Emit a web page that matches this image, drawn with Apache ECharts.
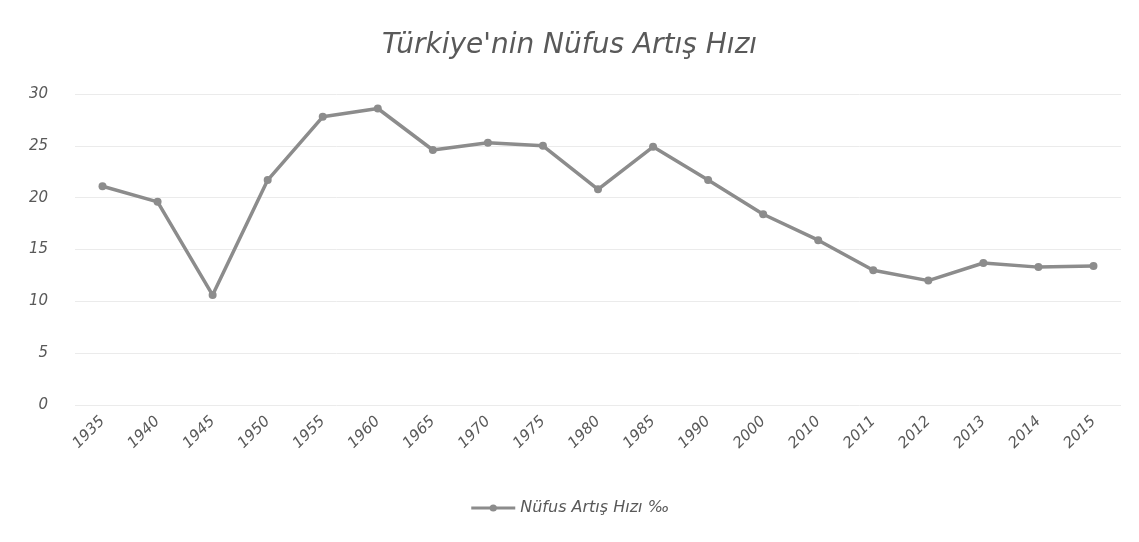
<!DOCTYPE html>
<html>
<head>
<meta charset="utf-8">
<script src="https://cdn.jsdelivr.net/npm/echarts@6/dist/echarts.min.js"></script>
<style>html,body{margin:0;padding:0;background:#fff}#c{width:1139px;height:542px}</style>
</head>
<body>
<div id="c"></div>
<script>
const categories = ['1935','1940','1945','1950','1955','1960','1965','1970','1975','1980','1985','1990','2000','2010','2011','2012','2013','2014','2015'];
const values = [21.1, 19.6, 10.6, 21.7, 27.8, 28.6, 24.6, 25.3, 25.0, 20.8, 24.9, 21.7, 18.4, 15.9, 13.0, 12.0, 13.7, 13.3, 13.4];
const yTicks = [0, 5, 10, 15, 20, 25, 30];
const seriesName = 'Nüfus Artış Hızı ‰';
const titleText = "Türkiye'nin Nüfus Artış Hızı";

const font = 'DejaVu Sans';
const chart = echarts.init(document.getElementById('c'));
chart.setOption({
  backgroundColor: '#fff',
  animation: false,
  title: {
    text: titleText, left: 'center', top: 27,
    textStyle: { fontFamily: font, fontStyle: 'oblique', fontSize: 28, fontWeight: 'normal', color: '#595959' }
  },
  legend: {
    bottom: 21, left: 'center',
    data: [seriesName],
    itemWidth: 44, itemHeight: 9, itemGap: 4,
    lineStyle: { width: 3 },
    textStyle: { fontFamily: font, fontStyle: 'oblique', fontSize: 16, color: '#595959' }
  },
  grid: { left: 75, right: 18, top: 94, bottom: 137, containLabel: false },
  xAxis: {
    type: 'category', data: categories, boundaryGap: true,
    axisLine: { show: false }, axisTick: { show: false },
    axisLabel: { rotate: 45, fontFamily: font, fontStyle: 'oblique', fontSize: 15, color: '#595959', margin: 14, interval: 0 }
  },
  yAxis: {
    type: 'value', min: yTicks[0], max: yTicks[yTicks.length - 1], interval: 5,
    axisLine: { show: false }, axisTick: { show: false },
    axisLabel: { fontFamily: font, fontStyle: 'oblique', fontSize: 15, color: '#595959', margin: 27 },
    splitLine: { lineStyle: { color: '#ebebeb', width: 1 } }
  },
  series: [{
    name: seriesName, type: 'line', data: values,
    symbol: 'circle', symbolSize: 8,
    lineStyle: { color: '#8c8c8c', width: 3.5 },
    itemStyle: { color: '#8c8c8c' }
  }]
});
</script>
</body>
</html>
